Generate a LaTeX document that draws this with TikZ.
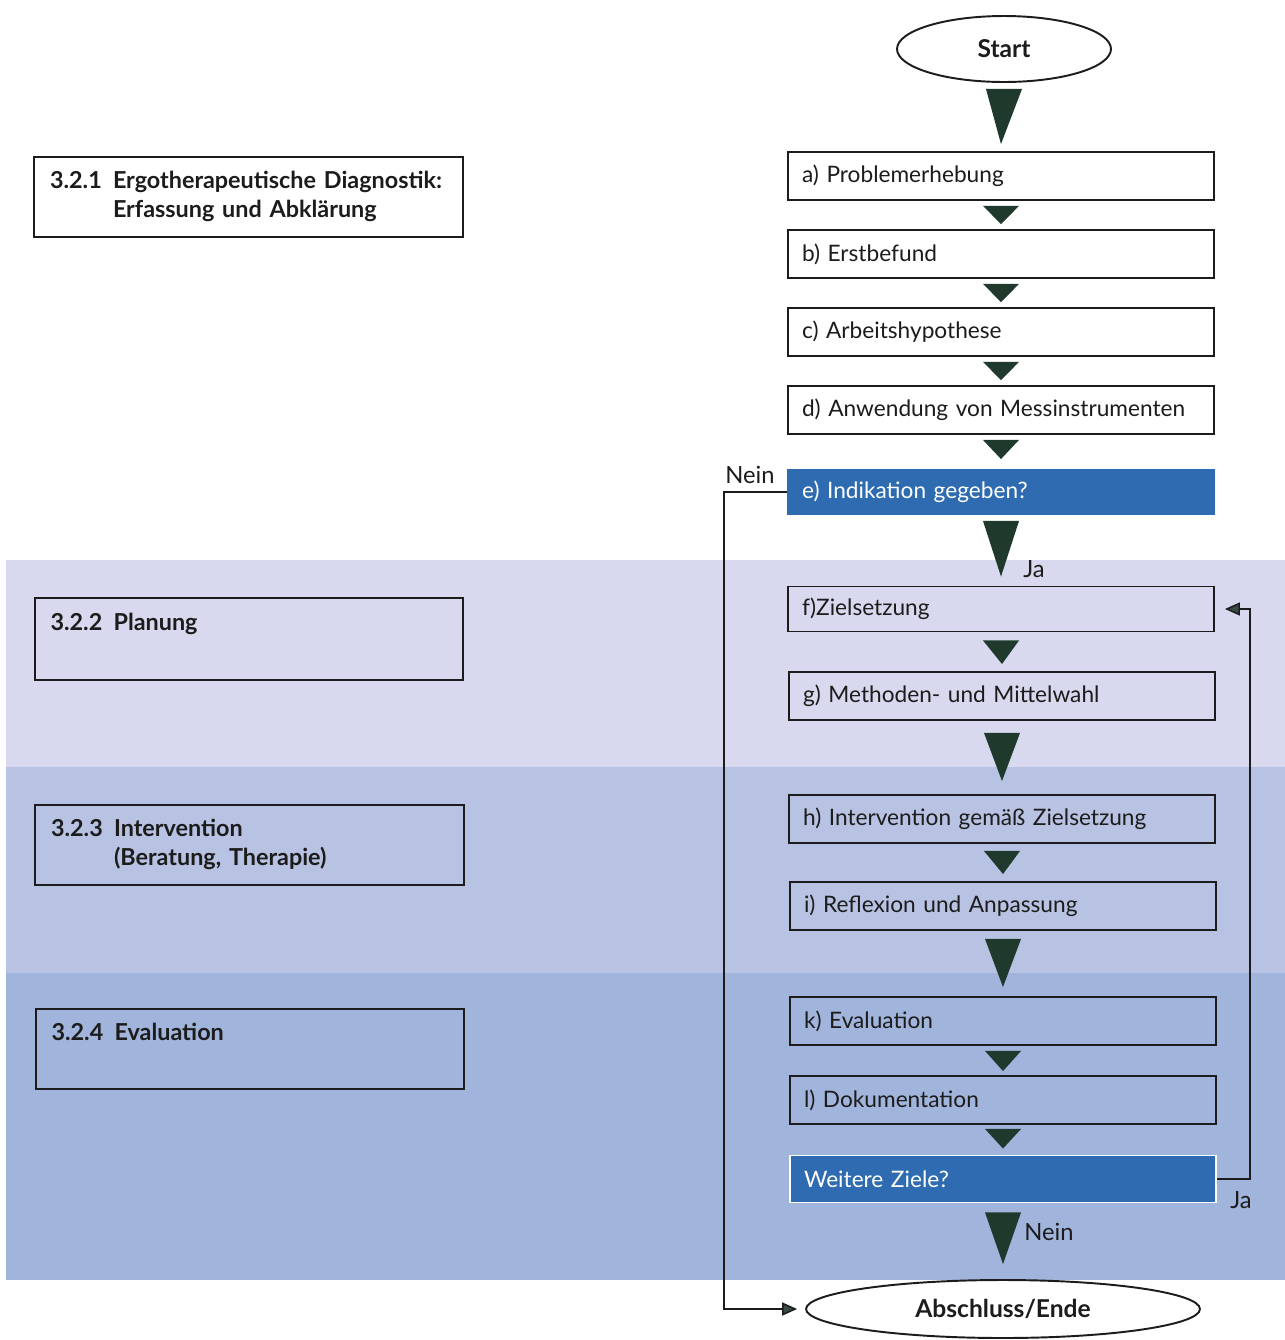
\documentclass[tikz,border=0pt]{standalone}
\usepackage{fontspec}
\setmainfont{Lato}
\usetikzlibrary{shapes.geometric,arrows.meta,calc}
\definecolor{bandA}{HTML}{D8D9EE}
\definecolor{bandB}{HTML}{B8C3E3}
\definecolor{bandC}{HTML}{A1B4DC}
\definecolor{qblue}{HTML}{2E6BB0}
\definecolor{trigreen}{HTML}{1F3A2D}
\definecolor{tipgrey}{HTML}{3A4A44}
\definecolor{ink}{HTML}{1C1C1C}
\newcommand\flowtri[4]{\fill[trigreen] ($(#1.south)+(-18,#3)$) -- ($(#1.south)+(18,#3)$) -- ($(#2.north)+(0,-#4)$) -- cycle;}
\newcommand\nohyphs{\hyphenpenalty=10000\relax\exhyphenpenalty=10000\relax}
\begin{document}
\begin{tikzpicture}[x=0.02cm,y=-0.02cm,
  stepbox/.style={draw=ink,line width=1.1pt,minimum width=8.52cm,minimum height=0.96cm,
    text width=7.96cm,align=left,inner xsep=0.28cm,inner ysep=0pt,
    font=\fontsize{12.9}{16}\selectfont,execute at begin node=\nohyphs,text=ink},
  qbox/.style={stepbox,fill=qblue,draw=qblue,text=white,minimum height=0.88cm},
  secbox/.style={draw=ink,line width=1.1pt,minimum width=8.58cm,minimum height=1.6cm,
    text width=7.94cm,align=left,inner xsep=0.32cm,inner ysep=0pt,
    font=\fontsize{13.3}{16.5}\selectfont\bfseries,text=ink},
  term/.style={ellipse,draw=ink,line width=1.1pt,inner sep=0pt,fill=white,
    font=\fontsize{14}{16}\selectfont\bfseries,text=ink},
  lbl/.style={font=\fontsize{13.5}{16}\selectfont,text=ink,inner sep=0pt},
  loopline/.style={draw=ink,line width=0.9pt,-{Triangle[length=3mm,width=2.6mm,fill=tipgrey]}},
]
\useasboundingbox (0,0) rectangle (1285,1340);
\fill[white] (0,0) rectangle (1285,1340);
% bands
\fill[bandA] (6,560) rectangle (1285,767);
\fill[bandB] (6,767) rectangle (1285,973);
\fill[bandC] (6,973) rectangle (1285,1280);

% section boxes
\node[secbox] (s1) at (248.5,197) {\rule{0pt}{6pt}\begin{tabular}{@{}p{1.26cm}@{}l@{}}3.2.1 & Ergotherapeutische Diagnostik:\\ & Erfassung und Abklärung\end{tabular}};
\node[secbox,minimum height=1.64cm] (s2) at (249,639) {\rule{0pt}{6pt}\begin{tabular}{@{}p{1.26cm}@{}l@{}}3.2.2 & Planung\\ & \end{tabular}};
\node[secbox] (s3) at (249.5,845) {\rule{0pt}{6pt}\begin{tabular}{@{}p{1.26cm}@{}l@{}}3.2.3 & Intervention\\ & (Beratung, Therapie)\end{tabular}};
\node[secbox] (s4) at (250,1049) {\rule{0pt}{6pt}\begin{tabular}{@{}p{1.26cm}@{}l@{}}3.2.4 & Evaluation\\ & \end{tabular}};

% flow
\node[term,minimum width=4.28cm,minimum height=1.32cm] (start) at (1004,49) {Start};
\node[stepbox] (a) at (1001,176) {a) Problemerhebung};
\node[stepbox] (b) at (1001,254) {b) Erstbefund};
\node[stepbox] (c) at (1001,332) {c) Arbeitshypothese};
\node[stepbox] (d) at (1001,410) {d) Anwendung von Messinstrumenten};
\node[qbox] (e) at (1001,492) {e) Indikation gegeben?};
\node[stepbox,minimum height=0.9cm] (f) at (1001,609) {f)Zielsetzung};
\node[stepbox] (g) at (1002,696) {g) Methoden- und Mittelwahl};
\node[stepbox] (h) at (1002,819) {h) Intervention gemäß Zielsetzung};
\node[stepbox] (i) at (1003,906) {i) Reflexion und Anpassung};
\node[stepbox] (k) at (1003,1021) {k) Evaluation};
\node[stepbox] (l) at (1003,1100) {l) Dokumentation};
\node[qbox,draw=white,minimum height=0.94cm] (w) at (1003,1179) {Weitere Ziele?};
\node[term,minimum width=7.88cm,minimum height=1.16cm] (end) at (1003,1309) {Abschluss/Ende};

% triangles
\flowtri{start}{a}{6}{7}
\flowtri{a}{b}{5}{5}
\flowtri{b}{c}{5}{5}
\flowtri{c}{d}{5}{5}
\flowtri{d}{e}{5}{10}
\flowtri{e}{f}{6}{9}
\flowtri{f}{g}{8}{7}
\flowtri{g}{h}{12}{13}
\flowtri{h}{i}{7}{7}
\flowtri{i}{k}{8}{9}
\flowtri{k}{l}{5}{4}
\flowtri{l}{w}{4}{6}
\flowtri{w}{end}{9}{15}

% labels
\node[lbl] (ja1) at (1034,569) {Ja};
\node[lbl] (nein1) at (750,475) {Nein};
\node[lbl] (ja2) at (1241,1200) {Ja};
\node[lbl] (nein2) at (1049,1232) {Nein};

% loops
\draw[loopline,shorten >=1.6mm] (e.west) -- ++(-63,0) |- (end.west);
\draw[loopline,shorten >=2mm] (w.east) -- ++(33,0) |- (f.east);
\end{tikzpicture}
\end{document}
